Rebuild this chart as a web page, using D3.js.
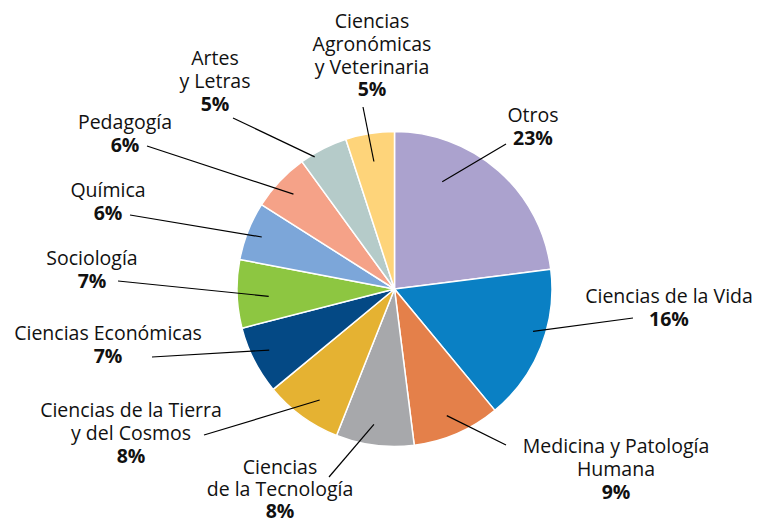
<!DOCTYPE html>
<html><head><meta charset="utf-8">
<script src="https://cdn.jsdelivr.net/npm/d3@7"></script>
<style>html,body{margin:0;padding:0;background:#fff;}svg{display:block;}</style>
</head><body>
<svg id="chart" width="758" height="523"></svg>
<script>
// ---- data ----
const categories = ["Otros","Ciencias de la Vida","Medicina y Patología Humana","Ciencias de la Tecnología","Ciencias de la Tierra y del Cosmos","Ciencias Económicas","Sociología","Química","Pedagogía","Artes y Letras","Ciencias Agronómicas y Veterinaria"];
const values = [23,16,9,8,8,7,7,6,6,5,5];
const percentLabels = ["23%","16%","9%","8%","8%","7%","7%","6%","6%","5%","5%"];
const labelLines = [["Otros"],["Ciencias de la Vida"],["Medicina y Patología","Humana"],["Ciencias","de la Tecnología"],["Ciencias de la Tierra","y del Cosmos"],["Ciencias Económicas"],["Sociología"],["Química"],["Pedagogía"],["Artes","y Letras"],["Ciencias","Agronómicas","y Veterinaria"]];
const colors = ["#ABA2CE","#0A80C4","#E4804A","#A7A8AB","#E5B232","#044985","#8DC641","#7CA6D9","#F5A288","#B5CBC9","#FED47A"];

// ---- layout (positions only) ----
const cx = 394.5, cy = 289, R = 157.5;
// label block: center x, y of first line (visual middle), line spacing
const labelPos = [[533,115,22.8],[669,296,22.8],[616,446,22.8],[280,467,22],[131,410,22.8],[108,333,22.8],[92,258,22.8],[108,190,22.8],[125,122,22.8],[215,58,22.8],[372,21,22.8]];
// leader: outer end point, inner end as [fraction along slice angle, fraction of radius]
const leaderOuter = [[506,144],[633,318],[506,445],[329,477],[204,435],[152,357],[118,281],[130,215],[147,146],[233,118],[363,107]];
const leaderInner = [[0.29,0.745],[0.42,0.92],[0.53,0.87],[0.55,0.87],[0.43,0.85],[0.54,0.885],[0.44,0.80],[0.49,0.905],[0.5,0.88],[0.27,0.98],[0.49,0.82]];

const svg = d3.select("#chart");
const data = categories.map((c,i)=>({cat:c,value:values[i],i}));
const pie = d3.pie().value(d=>d.value).sort(null);
const arcs = pie(data);
const arc = d3.arc().innerRadius(0).outerRadius(R);
const color = d3.scaleOrdinal().domain(categories).range(colors);

const g = svg.append("g").attr("transform",`translate(${cx},${cy})`);
g.selectAll("path").data(arcs).join("path")
  .attr("d",arc).attr("fill",d=>color(d.data.cat))
  .attr("stroke","#fff").attr("stroke-width",1.5).attr("stroke-linejoin","round");

// leader lines
svg.selectAll("line.leader").data(arcs).join("line").attr("class","leader")
  .attr("x1",d=>leaderOuter[d.data.i][0]).attr("y1",d=>leaderOuter[d.data.i][1])
  .attr("x2",d=>{const [t,k]=leaderInner[d.data.i];const a=d.startAngle+t*(d.endAngle-d.startAngle);return cx+Math.sin(a)*R*k;})
  .attr("y2",d=>{const [t,k]=leaderInner[d.data.i];const a=d.startAngle+t*(d.endAngle-d.startAngle);return cy-Math.cos(a)*R*k;})
  .attr("stroke","#000").attr("stroke-width",1.2);

// labels
const font = "'Open Sans', sans-serif";
arcs.forEach(d=>{
  const i=d.data.i; const [lx,ly,lh]=labelPos[i];
  const t = svg.append("text").attr("text-anchor","middle").attr("font-family",font).attr("font-size",19.5).attr("fill","#111");
  const lines = labelLines[i];
  lines.forEach((s,j)=>{
    t.append("tspan").attr("x",lx).attr("y",ly+j*lh+7).text(s);
  });
  t.append("tspan").attr("x",lx).attr("y",ly+lines.length*lh+7).attr("font-weight","bold").text(percentLabels[i]);
});
</script>
</body></html>
